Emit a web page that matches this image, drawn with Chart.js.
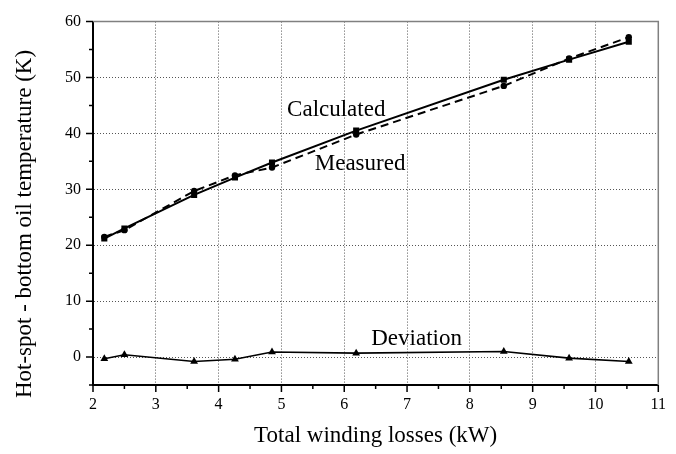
<!DOCTYPE html>
<html>
<head>
<meta charset="utf-8">
<script src="https://cdn.jsdelivr.net/npm/chart.js@4/dist/chart.umd.min.js"></script>
<style>
  body { margin: 0; background: #fff; }
  #wrap { width: 676px; height: 454px; }
</style>
</head>
<body>
<div id="wrap"><canvas id="graph" width="676" height="454"></canvas></div>
<script>
// values
var losses = [2.18, 2.50, 3.61, 4.26, 4.85, 6.19, 8.54, 9.58, 10.53];
var calculated = [21.2, 23.0, 29.0, 32.1, 34.8, 40.5, 49.6, 53.2, 56.4];
var measured = [21.5, 22.7, 29.7, 32.5, 33.9, 39.8, 48.5, 53.4, 57.2];
var deviation = [-0.3, 0.4, -0.8, -0.4, 0.9, 0.7, 1.0, -0.2, -0.8];

// in-plot labels (anchor given in data units, left edge / text baseline)
var seriesNames = ["Calculated", "Measured", "Deviation"];
var nameX = [5.09, 5.53, 6.43];
var nameY = [43.1, 33.5, 2.2];

var xTitle = "Total winding losses (kW)";
var yTitle = "Hot-spot - bottom oil temperature (K)";
var serif = "'Liberation Serif', 'Times New Roman', serif";

var toPoints = function(xs, ys) {
  var pts = [];
  for (var i = 0; i < xs.length; i++) {
    pts.push({x: xs[i], y: ys[i]});
  }
  return pts;
};

//extra drawing: grey frame, minor/major tick marks, curve names, y title
var extras = {
  id: "extras",
  beforeDatasetsDraw: function(chart) {
    var ctx = chart.ctx;
    var a = chart.chartArea;
    ctx.save();
    ctx.strokeStyle = "#808080";
    ctx.lineWidth = 1.5;
    ctx.beginPath();
    ctx.moveTo(a.left, a.top);
    ctx.lineTo(a.right, a.top);
    ctx.lineTo(a.right, a.bottom);
    ctx.stroke();
    ctx.restore();
  },
  afterDraw: function(chart) {
    var ctx = chart.ctx;
    var xs = chart.scales.x;
    var ys = chart.scales.y;
    var a = chart.chartArea;
    ctx.save();
    ctx.strokeStyle = "#000";
    ctx.lineWidth = 1.5;
    ctx.beginPath();
    xs.ticks.forEach(function(t) {
      var px = xs.getPixelForValue(t.value);
      var len = Math.abs(t.value - Math.round(t.value)) < 1e-6 ? 7 : 4;
      ctx.moveTo(px, a.bottom);
      ctx.lineTo(px, a.bottom + len);
    });
    ys.ticks.forEach(function(t) {
      var py = ys.getPixelForValue(t.value);
      var len = t.value % 10 === 0 ? 7 : 4;
      ctx.moveTo(a.left, py);
      ctx.lineTo(a.left - len, py);
    });
    ctx.stroke();

    ctx.fillStyle = "#000";
    ctx.font = "23px " + serif;
    ctx.textAlign = "left";
    ctx.textBaseline = "alphabetic";
    for (var i = 0; i < seriesNames.length; i++) {
      ctx.fillText(seriesNames[i], xs.getPixelForValue(nameX[i]), ys.getPixelForValue(nameY[i]));
    }

    // y title sits a bit below the middle of the axis in the original
    ctx.translate(25, 224);
    ctx.rotate(-Math.PI / 2);
    ctx.textAlign = "center";
    ctx.textBaseline = "middle";
    ctx.fillText(yTitle, 0, 0);
    ctx.restore();
  }
};

var gridDotted = function(keep) {
  return {
    color: function(c) {
      return keep(c.tick.value) ? "#555" : "rgba(0,0,0,0)";
    },
    lineWidth: 1,
    drawTicks: false
  };
};

var chart = new Chart(document.getElementById("graph").getContext("2d"), {
  type: "scatter",
  data: {
    datasets: [
      {
        label: "Deviation",
        data: toPoints(losses, deviation),
        showLine: true,
        borderColor: "#000",
        backgroundColor: "#000",
        borderWidth: 1.6,
        pointStyle: "triangle",
        pointRadius: 4.5,
        pointBorderWidth: 0
      },
      {
        label: "Measured",
        data: toPoints(losses, measured),
        showLine: true,
        borderColor: "#000",
        backgroundColor: "#000",
        borderWidth: 2,
        borderDash: [8, 5],
        pointStyle: "circle",
        pointRadius: 3.2,
        pointBorderWidth: 0
      },
      {
        label: "Calculated",
        data: toPoints(losses, calculated),
        showLine: true,
        borderColor: "#000",
        backgroundColor: "#000",
        borderWidth: 2,
        pointStyle: "rect",
        pointRadius: 4.3,
        pointBorderWidth: 0
      }
    ]
  },
  options: {
    responsive: false,
    animation: false,
    devicePixelRatio: 1,
    layout: {padding: {left: 0, right: 17, top: 16, bottom: 0}},
    plugins: {legend: {display: false}, tooltip: {enabled: false}},
    elements: {line: {tension: 0}},
    scales: {
      x: {
        type: "linear",
        min: 2,
        max: 11,
        afterFit: function(s) { s.height = 69; },
        ticks: {
          stepSize: 0.5,
          padding: 10,
          color: "#000",
          font: {family: serif, size: 16},
          callback: function(v) { return Number.isInteger(v) ? String(v) : ""; }
        },
        grid: gridDotted(function(v) { return Number.isInteger(v) && v > 2 && v < 11; }),
        border: {display: true, color: "#000", width: 2, dash: [1, 2]},
        title: {
          display: true,
          text: xTitle,
          color: "#000",
          font: {family: serif, size: 23},
          padding: {top: 0, bottom: 4}
        }
      },
      y: {
        type: "linear",
        min: -5,
        max: 60,
        afterFit: function(s) { s.width = 93; },
        ticks: {
          stepSize: 5,
          padding: 12,
          color: "#000",
          font: {family: serif, size: 16},
          callback: function(v) { return v % 10 === 0 ? String(v) : ""; }
        },
        grid: gridDotted(function(v) { return v % 10 === 0 && v < 60; }),
        border: {display: true, color: "#000", width: 2, dash: [1, 2]}
      }
    }
  },
  plugins: [extras]
});
</script>
</body>
</html>
